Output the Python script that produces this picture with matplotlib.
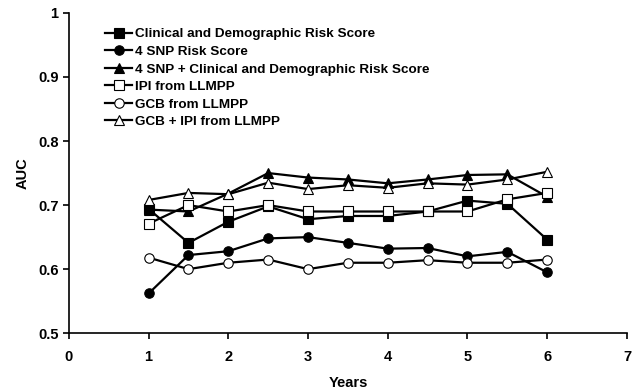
import matplotlib
matplotlib.use("Agg")
import matplotlib.pyplot as plt

plt.rcParams["font.family"] = ["Liberation Sans", "DejaVu Sans"]
plt.rcParams["font.weight"] = "bold"

years = [1, 1.5, 2, 2.5, 3, 3.5, 4, 4.5, 5, 5.5, 6]

clinical = [0.694, 0.641, 0.674, 0.698, 0.678, 0.683, 0.683, 0.690, 0.707, 0.702, 0.646]
snp4 = [0.562, 0.622, 0.628, 0.648, 0.650, 0.641, 0.632, 0.633, 0.620, 0.627, 0.595]
snp4_clinical = [0.693, 0.690, 0.718, 0.750, 0.743, 0.740, 0.734, 0.740, 0.747, 0.748, 0.713]
ipi = [0.671, 0.700, 0.690, 0.700, 0.690, 0.690, 0.690, 0.690, 0.690, 0.709, 0.719]
gcb = [0.618, 0.600, 0.610, 0.615, 0.600, 0.610, 0.610, 0.614, 0.610, 0.610, 0.615]
gcb_ipi = [0.708, 0.719, 0.717, 0.735, 0.725, 0.731, 0.727, 0.734, 0.732, 0.740, 0.752]

series = [
    ("Clinical and Demographic Risk Score", clinical, "s", "black"),
    ("4 SNP Risk Score", snp4, "o", "black"),
    ("4 SNP + Clinical and Demographic Risk Score", snp4_clinical, "^", "black"),
    ("IPI from LLMPP", ipi, "s", "white"),
    ("GCB from LLMPP", gcb, "o", "white"),
    ("GCB + IPI from LLMPP", gcb_ipi, "^", "white"),
]

fig = plt.figure(figsize=(6.32, 3.92), dpi=100)
ax = fig.add_axes([0.109, 0.150, 0.883, 0.817])

for label, vals, marker, face in series:
    ax.plot(years, vals, color="black", linewidth=1.6, marker=marker,
            markersize=6.8, markerfacecolor=face,
            markeredgecolor="black", markeredgewidth=0.8, label=label)

ax.set_xlim(0, 7)
ax.set_ylim(0.5, 1.0)
ax.set_xticks(range(0, 8))
ax.set_yticks([0.5, 0.6, 0.7, 0.8, 0.9, 1.0])
ax.set_yticklabels(["0.5", "0.6", "0.7", "0.8", "0.9", "1"])

for side in ["top", "right"]:
    ax.spines[side].set_visible(False)
for side in ["left", "bottom"]:
    ax.spines[side].set_linewidth(1.2)

ax.tick_params(axis="both", labelsize=10.5, width=1.2, length=4, direction="out")
ax.tick_params(axis="x", pad=8)

ax.set_xlabel("Years", fontsize=10.5, fontweight="bold", labelpad=9)
ax.set_ylabel("AUC", fontsize=10.5, fontweight="bold", labelpad=6)

ax.legend(loc="upper left", bbox_to_anchor=(0.065, 0.953), frameon=False,
          fontsize=9.7, handlelength=2.0, handletextpad=0.2, labelspacing=0.38,
          borderaxespad=0.0, borderpad=0.0)

fig.savefig("out.png", dpi=100)
